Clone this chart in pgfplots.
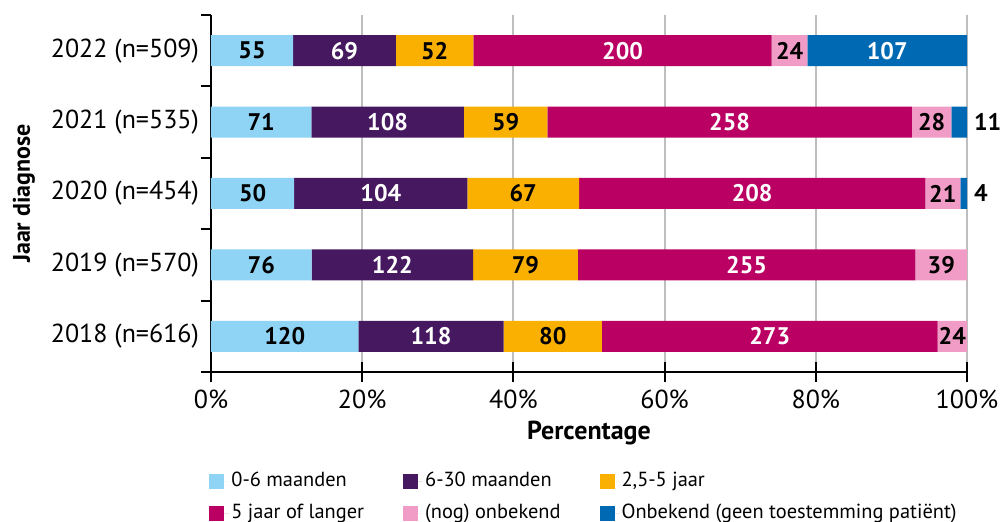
\documentclass[border=0pt]{standalone}
\usepackage{fontspec}
\setmainfont{PT Sans}
\usepackage{pgfplots}
\usepackage{pgfplotstable}
\pgfplotsset{compat=1.18}
\definecolor{cA}{HTML}{8FD3F5}
\definecolor{cB}{HTML}{45185F}
\definecolor{cC}{HTML}{F9B000}
\definecolor{cD}{HTML}{BA0063}
\definecolor{cE}{HTML}{F09CC6}
\definecolor{cF}{HTML}{0069B4}
\definecolor{gridgray}{HTML}{BEBEBE}

\pgfplotstableread{
y pct lab
4 10.85 55
3 13.27 71
2 11.01 50
1 13.31 76
0 19.51 120
}\tA
\pgfplotstableread{
y pct lab
4 13.61 69
3 20.19 108
2 22.91 104
1 21.37 122
0 19.19 118
}\tB
\pgfplotstableread{
y pct lab
4 10.26 52
3 11.03 59
2 14.76 67
1 13.84 79
0 13.01 80
}\tC
\pgfplotstableread{
y pct lab
4 39.45 200
3 48.22 258
2 45.81 208
1 44.66 255
0 44.39 273
}\tD
\pgfplotstableread{
y pct lab
4 4.73 24
3 5.23 28
2 4.63 21
1 6.83 39
0 3.90 24
}\tE
\pgfplotstableread{
y pct lab
4 21.10 107
3 2.06 {}
2 0.88 {}
1 0 {}
0 0 {}
}\tF
\pgfplotstableread{
y pct lab
4 0.001 {}
3 0.001 11
2 0.001 4
1 0.001 {}
0 0.001 {}
}\tG

\begin{document}
\begin{tikzpicture}
\fontsize{13}{15.6}\selectfont
\begin{axis}[
  width=378pt, height=178.5pt, scale only axis,
  xbar stacked, bar width=15.5pt,
  xmin=0, xmax=100, ymin=-0.5, ymax=4.5,
  clip=false,
  axis x line*=bottom, axis y line*=left,
  axis line style={-, line width=1pt, black},
  xtick={0,20,...,100},
  /pgf/number format/assume math mode=true,
  xticklabel={\pgfmathprintnumber{\tick}\%},
  xticklabel style={yshift=5.5pt},
  ytick={0,...,4},
  yticklabels={2018 (n=616),2019 (n=570),2020 (n=454),2021 (n=535),2022 (n=509)},
  yticklabel style={xshift=8.5pt},
  minor ytick={-0.5,0.5,...,4.5},
  tick align=outside,
  major tick length=10pt,
  minor tick length=5pt,
  every tick/.style={black, line width=1pt},
  every major y tick/.append style={draw=none},
  every major x tick/.append style={yshift=5pt},
  xmajorgrids,
  grid style={gridgray, line width=1pt},
  xlabel={\bfseries Percentage},
  every axis x label/.style={at={(axis description cs:0.5,0)}, anchor=center, yshift=-30.5pt},
  ylabel={\fontsize{12}{14}\selectfont\bfseries Jaar diagnose},
  every axis y label/.style={at={(axis description cs:0,0.5)}, xshift=-93.5pt, rotate=90, anchor=center},
  point meta=explicit symbolic,
  nodes near coords={\pgfplotspointmeta},
  every node near coord/.append style={font=\fontsize{12}{14}\selectfont\bfseries, text=black},
  legend columns=3,
  legend cell align=left,
  legend style={draw=none, at={(0,0)}, anchor=north west, xshift=-4pt, yshift=-45.75pt,
    font=\fontsize{10.2}{12.2}\selectfont,
    nodes={inner xsep=1pt},
    /tikz/every even column/.append style={column sep=18.5pt},
    row sep=2.8pt},
  legend image code/.code={\fill[#1] (0pt,-3.75pt) rectangle (7.5pt,3.75pt); \path (0pt,0pt) -- (10pt,0pt);},
]
\addplot[fill=cA, draw=none] table[x=pct, y=y, meta=lab] {\tA};
\addplot[fill=cB, draw=none, every node near coord/.append style={text=white}] table[x=pct, y=y, meta=lab] {\tB};
\addplot[fill=cC, draw=none] table[x=pct, y=y, meta=lab] {\tC};
\addplot[fill=cD, draw=none, every node near coord/.append style={text=white}] table[x=pct, y=y, meta=lab] {\tD};
\addplot[fill=cE, draw=none] table[x=pct, y=y, meta=lab] {\tE};
\addplot[fill=cF, draw=none, every node near coord/.append style={text=white}] table[x=pct, y=y, meta=lab] {\tF};
\addplot[fill=none, draw=none, every node near coord/.append style={anchor=west, xshift=-1pt}] table[x=pct, y=y, meta=lab] {\tG};
\legend{0-6 maanden, 6-30 maanden, {2,5-5 jaar}, 5 jaar of langer, (nog) onbekend, Onbekend (geen toestemming patiënt)}
\coordinate (O) at (rel axis cs:0,0);
\end{axis}
\pgfresetboundingbox
\path (O) ++(-105.5pt,-75pt) rectangle ++(500.5pt,261pt);
\end{tikzpicture}
\end{document}
